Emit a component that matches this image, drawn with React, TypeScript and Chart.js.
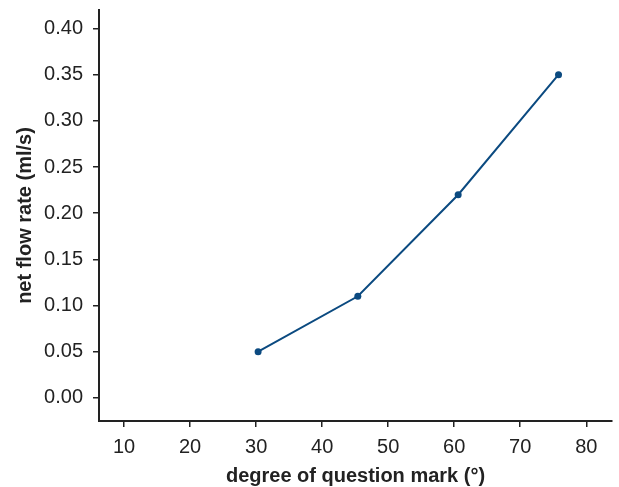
import React, { useEffect, useRef } from "react";
import { Chart, registerables } from "chart.js";

Chart.register(...registerables);

const degrees = [30.3, 45.4, 60.6, 75.8];
const flowRates = [0.05, 0.11, 0.22, 0.35];
const xTickValues = [10, 20, 30, 40, 50, 60, 70, 80];
const yTickValues = [0, 0.05, 0.1, 0.15, 0.2, 0.25, 0.3, 0.35, 0.4];
const xTitle = "degree of question mark (°)";
const yTitle = "net flow rate (ml/s)";

const FONT = "'Liberation Sans', Arial, Helvetica, sans-serif";
const INK = "#222222";
const LINE = "#0b4a80";

export default function App() {
  const ref = useRef<HTMLCanvasElement | null>(null);

  useEffect(() => {
    if (!ref.current) return;
    const chart = new Chart(ref.current, {
      type: "line",
      data: {
        datasets: [
          {
            data: degrees.map((d, i) => ({ x: d, y: flowRates[i] })),
            borderColor: LINE,
            backgroundColor: LINE,
            borderWidth: 2,
            pointRadius: 3.5,
            pointBorderWidth: 0,
            pointBackgroundColor: LINE,
            fill: false,
            tension: 0,
          },
        ],
      },
      options: {
        animation: false,
        responsive: false,
        maintainAspectRatio: false,
        layout: { padding: { top: 10, right: 7, left: 0, bottom: 0 } },
        plugins: {
          legend: { display: false },
          tooltip: { enabled: false },
        },
        scales: {
          x: {
            type: "linear",
            min: 6.2,
            max: 83.9,
            afterFit: (s: any) => {
              s.height = 66;
              s.paddingLeft = 0;
              s.paddingRight = 0;
              s.paddingTop = 0;
              s.paddingBottom = 0;
            },
            afterBuildTicks: (s: any) => {
              s.ticks = xTickValues.map((v) => ({ value: v }));
            },
            ticks: {
              color: INK,
              font: { family: FONT, size: 20 },
              padding: 8,
              maxRotation: 0,
              autoSkip: false,
              callback: (v: any) => String(v),
            },
            grid: {
              display: true,
              drawOnChartArea: false,
              drawTicks: true,
              tickLength: 6,
              color: INK,
              lineWidth: 1.5,
            },
            border: { display: true, color: INK, width: 2 },
            title: {
              display: true,
              text: xTitle,
              color: INK,
              font: { family: FONT, size: 20, weight: "bold", lineHeight: 1 },
              padding: { top: 0, bottom: 1 },
            },
          },
          y: {
            type: "linear",
            min: -0.025,
            max: 0.42,
            afterFit: (s: any) => {
              s.width = 99;
              s.paddingLeft = 0;
              s.paddingRight = 0;
              s.paddingTop = 0;
              s.paddingBottom = 0;
            },
            afterBuildTicks: (s: any) => {
              s.ticks = yTickValues.map((v) => ({ value: v }));
            },
            ticks: {
              color: INK,
              font: { family: FONT, size: 20 },
              padding: 10,
              autoSkip: false,
              callback: (v: any) => Number(v).toFixed(2),
            },
            grid: {
              display: true,
              drawOnChartArea: false,
              drawTicks: true,
              tickLength: 6,
              color: INK,
              lineWidth: 1.5,
            },
            border: { display: true, color: INK, width: 2 },
            title: {
              display: true,
              text: yTitle,
              color: INK,
              font: { family: FONT, size: 20, weight: "bold", lineHeight: 1 },
              padding: { top: 15, bottom: 0 },
            },
          },
        },
      },
    });
    return () => chart.destroy();
  }, []);

  return (
    <div style={{ position: "absolute", left: 0, top: 0, width: 619, height: 487, background: "#fff" }}>
      <canvas ref={ref} width={619} height={487} style={{ display: "block", width: 619, height: 487 }} />
    </div>
  );
}
